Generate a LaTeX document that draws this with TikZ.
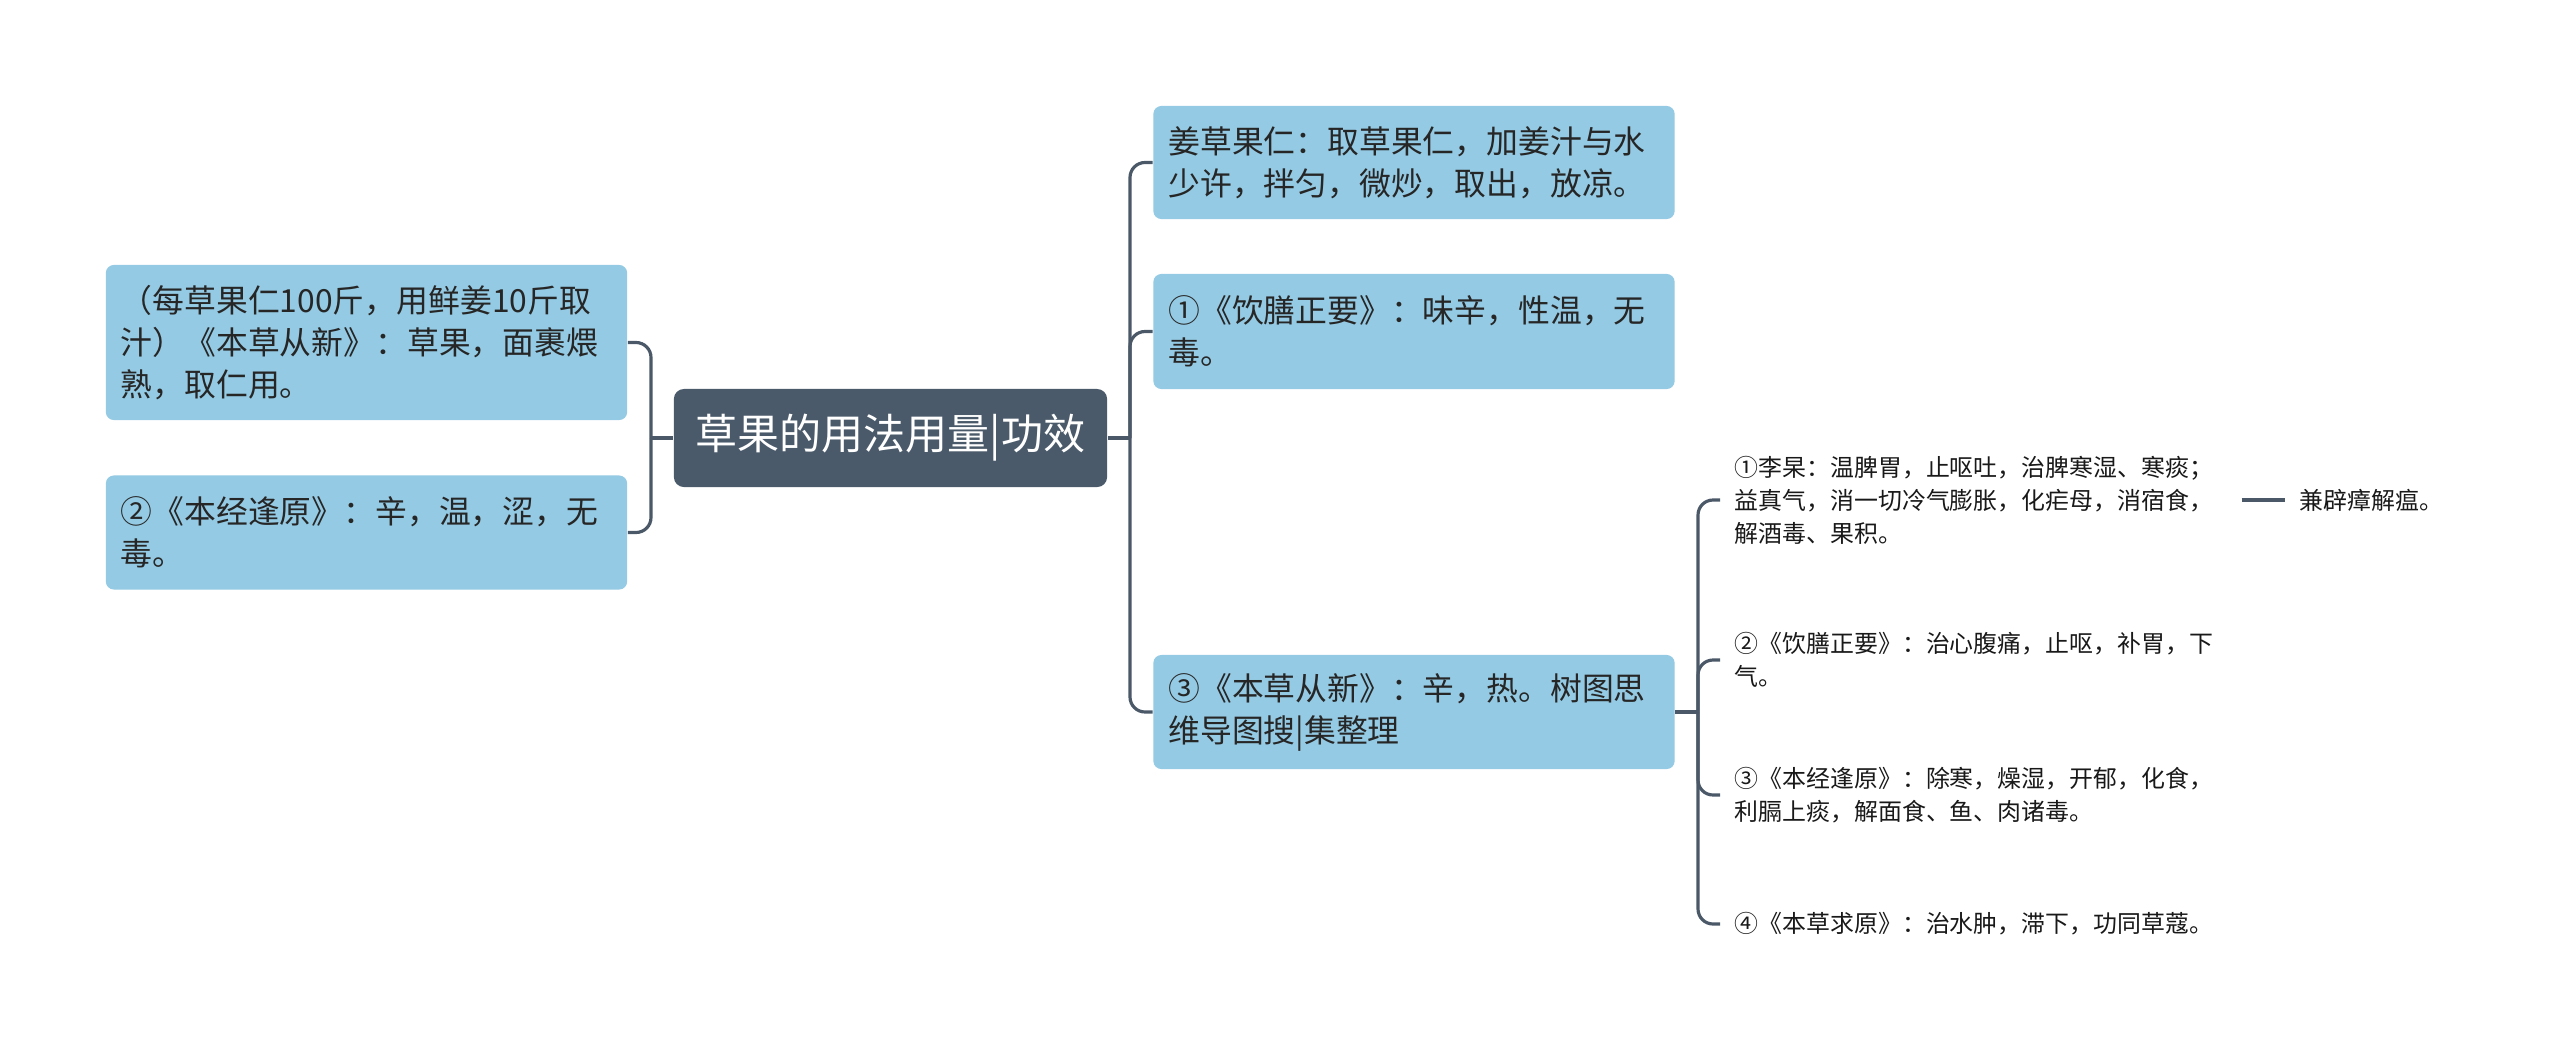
\documentclass[tikz,border=0pt]{standalone}
\usepackage{fontspec}
\setmainfont{Noto Sans CJK SC}
\usetikzlibrary{positioning}
\definecolor{boxblue}{RGB}{148,202,227}
\definecolor{slate}{RGB}{74,90,106}
\definecolor{linkgray}{RGB}{74,88,104}

\begin{document}
\begin{tikzpicture}[x=0.01cm, y=-0.01cm,
  box/.style={fill=boxblue, rounded corners=0.08cm, align=left, text width=4.91cm, inner xsep=0.15cm, inner ysep=0pt, minimum height=1.14cm, text=black!85, font=\fontsize{9.05pt}{11.95pt}\selectfont},
  rootbox/.style={fill=slate, rounded corners=0.1cm, minimum width=4.33cm, minimum height=0.98cm, text=white, font=\fontsize{11.95pt}{14pt}\selectfont},
  item/.style={anchor=west, align=left, text width=4.92cm, inner xsep=0.14cm, inner ysep=0pt, text=black!90, font=\fontsize{6.8pt}{9.4pt}\selectfont},
  link/.style={draw=linkgray, line width=0.9pt, rounded corners=0.15cm}
]
\useasboundingbox (0,0) rectangle (2560,1057);

\node[rootbox] (root) at (890.5,438) {草果的用法用量|功效};

\node[box, minimum height=1.55cm] (prep) at (366.5,342.5) {（每草果仁100斤，用鲜姜10斤取\\汁）《本草从新》：草果，面裹煨\\熟，取仁用。};
\node[box] (jing) at (366.5,532.5) {②《本经逢原》：辛，温，涩，无\\毒。};

\node[box, minimum height=1.13cm] (ginger) at (1414,162.5) {姜草果仁：取草果仁，加姜汁与水\\少许，拌匀，微炒，取出，放凉。};
\node[box, minimum height=1.15cm] (yinshan) at (1414,331.5) {①《饮膳正要》：味辛，性温，无\\毒。};
\node[box] (congxin) at (1414,712) {③《本草从新》：辛，热。树图思\\维导图搜|集整理};

\node[item] (li) at (1720,500) {①李杲：温脾胃，止呕吐，治脾寒湿、寒痰；\\益真气，消一切冷气膨胀，化疟母，消宿食，\\解酒毒、果积。};
\node[item, text width=1.6cm, right=0.43cm of li] (zhang) {兼辟瘴解瘟。};
\node[item] (xinfu) at (1720,660) {②《饮膳正要》：治心腹痛，止呕，补胃，下\\气。};
\node[item] (chuhan) at (1720,795) {③《本经逢原》：除寒，燥湿，开郁，化食，\\利膈上痰，解面食、鱼、肉诸毒。};
\node[item] (qiuyuan) at (1720,924) {④《本草求原》：治水肿，滞下，功同草蔻。};

\coordinate (lj) at (651,438);
\coordinate (rj) at (1130,438);
\coordinate (sj) at (1698,712);

\draw[link] (root.west) -- (lj);
\foreach \n in {prep,jing}
  \draw[link] (lj) |- (\n.east);
\draw[link] (root.east) -- (rj);
\foreach \n in {ginger,yinshan,congxin}
  \draw[link] (rj) |- (\n.west);
\draw[link] (congxin.east) -- (sj);
\foreach \n in {li,xinfu,chuhan,qiuyuan}
  \draw[link] (sj) |- (\n.west);
\draw[link] (li) -- (zhang);

\end{tikzpicture}
\end{document}
